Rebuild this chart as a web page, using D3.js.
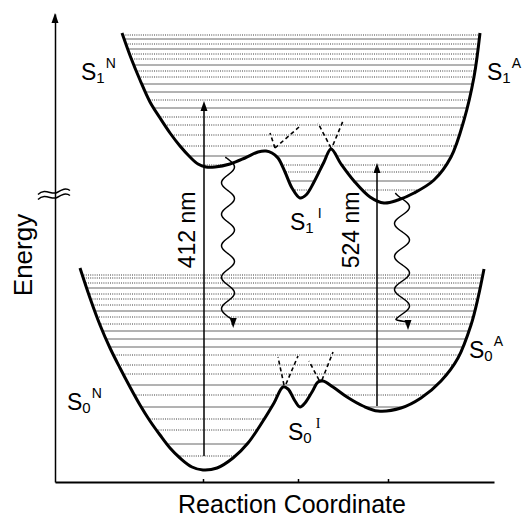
<!DOCTYPE html>
<html><head><meta charset="utf-8">
<script src="https://cdn.jsdelivr.net/npm/d3@7/dist/d3.min.js"></script>
<style>body{margin:0;background:#fff}svg{display:block}</style>
</head><body><div id="chart"></div>
<script>
// ---- Data (arbitrary units: reaction coordinate, energy) ----
const s1Curve = [[6.7,44.9],[7.6,42.4],[8.5,40.2],[9.5,38.0],[10.5,36.4],[11.5,34.9],[12.5,33.6],[13.5,32.5],[14.3,31.8],[15.1,31.5],[16.0,31.5],[17.5,31.8],[19.0,32.4],[20.3,33.0],[21.1,33.1],[21.7,32.9],[22.3,32.4],[23.0,31.0],[23.7,29.4],[24.5,28.4],[25.1,28.7],[25.9,30.0],[26.9,32.0],[27.6,33.3],[28.6,31.8],[29.9,30.1],[31.5,28.5],[32.9,27.9],[34.3,28.2],[35.9,28.9],[37.9,30.2],[39.6,32.5],[40.9,36.2],[41.9,40.5],[42.5,44.9]];
const s0Curve = [[2.5,21.4],[3.5,18.4],[4.5,15.7],[5.5,13.4],[6.5,11.4],[7.5,9.5],[8.5,7.7],[9.5,6.1],[10.5,4.7],[11.5,3.4],[12.5,2.4],[13.7,1.5],[14.8,1.2],[16.2,1.4],[17.8,2.4],[19.3,3.9],[20.8,6.1],[21.9,7.9],[22.8,9.5],[23.3,9.3],[24.0,8.1],[24.5,7.5],[25.0,7.9],[25.7,9.0],[26.3,10.0],[26.8,10.1],[27.8,9.5],[29.2,8.5],[30.8,7.6],[32.3,7.1],[34.6,7.4],[36.6,8.4],[38.6,10.1],[40.3,12.4],[41.6,15.7],[42.3,18.4],[42.9,21.3]];

const s1Levels = [44.7,44.3,43.8,43.3,42.8,42.3,41.7,41.1,40.5,39.8,39.0,38.2,37.4,36.5,35.7,34.7,33.6,32.6,31.7,31.0,30.1,29.2];
const s1LevelKinds = ["d","s","d","s","d","d","s","d","d","s","s","d","s","d","d","d","d","s","d","d","s","d"];
const s0Levels = [20.7,20.4,19.9,19.4,18.8,18.3,17.7,17.1,16.5,15.8,15.1,14.3,13.5,12.7,11.7,10.8,9.7,8.7,7.5,6.3,5.2,3.8,2.6];
const s0LevelKinds = ["d","d","d","s","d","d","d","s","d","d","s","s","s","d","d","d","s","d","s","d","d","s","d"];

// diabatic continuations (dashed)
const crossings = [
  [[22.0,33.4],[21.5,34.9]], [[22.0,33.4],[24.4,35.5]],
  [[27.6,33.4],[26.3,35.9]], [[27.8,33.7],[28.8,36.1]],
  [[22.9,9.7],[22.3,12.5]],  [[23.1,9.8],[24.3,12.6]],
  [[26.4,10.2],[25.4,12.1]], [[26.7,10.2],[27.8,13.0]]
];

const absorptions = [
  {x:14.9, from:2.6, to:38.1, label:"412 nm", lx:14.0, lE:25.2},
  {x:32.2, from:7.6, to:31.9, label:"524 nm", lx:30.4, lE:25.2}
];
const emissions = [
  {x:17.3, from:32.5, to:15.4},
  {x:34.7, from:28.9, to:15.2}
];
const xTicks = [14.8, 24.3, 33.3];
const labels = [
  {s:"S", sub:"1", sup:"N", x:2.6,  E:40.2},
  {s:"S", sub:"1", sup:"A", x:43.2, E:40.2},
  {s:"S", sub:"1", sup:"I", x:23.5, E:25.2},
  {s:"S", sub:"0", sup:"N", x:1.2,  E:7.2},
  {s:"S", sub:"0", sup:"A", x:41.4, E:12.4},
  {s:"S", sub:"0", sup:"I", x:23.3, E:4.2}
];
const axisBreak = 28.7;

// ---- Drawing ----
const W = 522, H = 517;
const FONT = "'Liberation Sans', Arial, Helvetica, sans-serif";
const svg = d3.select("#chart").append("svg").attr("width", W).attr("height", H)
  .style("font-family", FONT);
const x = d3.scaleLinear().domain([0, 43.9]).range([55, 494]);
const y = d3.scaleLinear().domain([0, 46.8]).range([482, 14]);

const line = d3.line().x(d => x(d[0])).y(d => y(d[1])).curve(d3.curveCatmullRom.alpha(0.5));
const defs = svg.append("defs");
defs.append("clipPath").attr("id", "clipS1").append("path").attr("d", line(s1Curve) + "Z");
defs.append("clipPath").attr("id", "clipS0").append("path").attr("d", line(s0Curve) + "Z");

function drawLevels(levels, kinds, clip) {
  const g = svg.append("g").attr("clip-path", `url(#${clip})`);
  g.selectAll("line").data(levels).join("line")
    .attr("x1", x(0)).attr("x2", x(43.9))
    .attr("y1", d => y(d)).attr("y2", d => y(d))
    .attr("stroke", (d, i) => kinds[i] === "s" ? "#555" : "#222")
    .attr("stroke-width", 0.9)
    .attr("stroke-dasharray", (d, i) => kinds[i] === "s" ? null : "1,1.2");
}
drawLevels(s1Levels, s1LevelKinds, "clipS1");
drawLevels(s0Levels, s0LevelKinds, "clipS0");

// axes
const xAxis = d3.axisBottom(x).tickValues(xTicks).tickSize(-3).tickSizeOuter(0).tickFormat("");
const gx = svg.append("g").attr("transform", `translate(0,${y(0)})`).call(xAxis);
gx.select(".domain").attr("stroke", "#000").attr("stroke-width", 2);
gx.selectAll(".tick line").attr("stroke", "#000").attr("stroke-width", 1.5);
const yAxis = d3.axisLeft(y).tickValues([]).tickSizeOuter(0);
const gy = svg.append("g").attr("transform", `translate(${x(0)},0)`).call(yAxis);
gy.select(".domain").attr("stroke", "#000").attr("stroke-width", 1.5);
// y-axis arrowhead
const yTop = y(46.8);
svg.append("path").attr("d", `M${x(0)},${yTop-1} l-3.5,10 l7,0 Z`).attr("fill", "#000");
// axis break
const yb = y(axisBreak);
[-2.5, 2.5].forEach(o => {
  svg.append("path")
    .attr("d", `M${x(0)-17},${yb+o+2} C${x(0)-10},${yb+o-5} ${x(0)-3},${yb+o+3} ${x(0)+2},${yb+o} S${x(0)+11},${yb+o-5} ${x(0)+15},${yb+o-2}`)
    .attr("fill", "none").attr("stroke", "#000").attr("stroke-width", 1.5);
});

// curves
[s1Curve, s0Curve].forEach(c => {
  svg.append("path").attr("d", line(c)).attr("fill", "none")
    .attr("stroke", "#000").attr("stroke-width", 3).attr("stroke-linejoin", "round");
});
// dashed crossings
svg.append("g").selectAll("path").data(crossings).join("path")
  .attr("d", d => d3.line().x(p => x(p[0])).y(p => y(p[1]))(d))
  .attr("stroke", "#000").attr("stroke-width", 1.6).attr("stroke-dasharray", "4,3").attr("fill", "none");

// absorption arrows
absorptions.forEach(a => {
  const ax = x(a.x), y0 = y(a.from), y1 = y(a.to);
  svg.append("line").attr("x1", ax).attr("x2", ax).attr("y1", y0).attr("y2", y1 + 8)
    .attr("stroke", "#000").attr("stroke-width", 1.5);
  svg.append("path").attr("d", `M${ax},${y1} l-3.5,10 l7,0 Z`).attr("fill", "#000");
  svg.append("text").attr("transform", `translate(${x(a.lx)},${y(a.lE)}) rotate(-90)`)
    .attr("text-anchor", "middle").attr("font-size", 23).text(a.label);
});

// emission wavy arrows
emissions.forEach((e, k) => {
  const cx = x(e.x), ys = y(e.from), ye = y(e.to);
  const A = k === 0 ? 6.5 : 7.5, lam = k === 0 ? 31.5 : 33, off = k === 0 ? 10 : 14;
  const pts = [];
  for (let yy = ys; yy <= ye - 10; yy += 1) {
    pts.push([cx + A * Math.cos(2 * Math.PI * (yy - ys - off) / lam), yy]);
  }
  const tipX = cx + A * 0.8;
  pts.push([tipX, ye - 8]);
  svg.append("path").attr("d", d3.line().curve(d3.curveBasis)(pts)).attr("fill", "none")
    .attr("stroke", "#000").attr("stroke-width", 1.5);
  svg.append("path").attr("d", `M${tipX},${ye} l-3.5,-10 l7,0 Z`).attr("fill", "#000");
});

// state labels
labels.forEach(l => {
  const t = svg.append("text").attr("x", x(l.x)).attr("y", y(l.E));
  t.append("tspan").attr("font-size", 23).text(l.s);
  t.append("tspan").attr("font-size", 15).attr("dy", 3).text(l.sub);
  const sp = t.append("tspan").attr("font-size", 14).attr("dy", -15)
    .attr("dx", l.sup === "I" ? 4 : 1).text(l.sup);
  if (l.sup === "I" && l.sub === "0") sp.attr("font-family", "'Liberation Serif', 'DejaVu Serif', serif");
});

// axis titles
svg.append("text").attr("transform", `translate(32,255) rotate(-90)`)
  .attr("text-anchor", "middle").attr("font-size", 26).text("Energy");
svg.append("text").attr("x", 292).attr("y", 513)
  .attr("text-anchor", "middle").attr("font-size", 25).text("Reaction Coordinate");
</script>
</body></html>
